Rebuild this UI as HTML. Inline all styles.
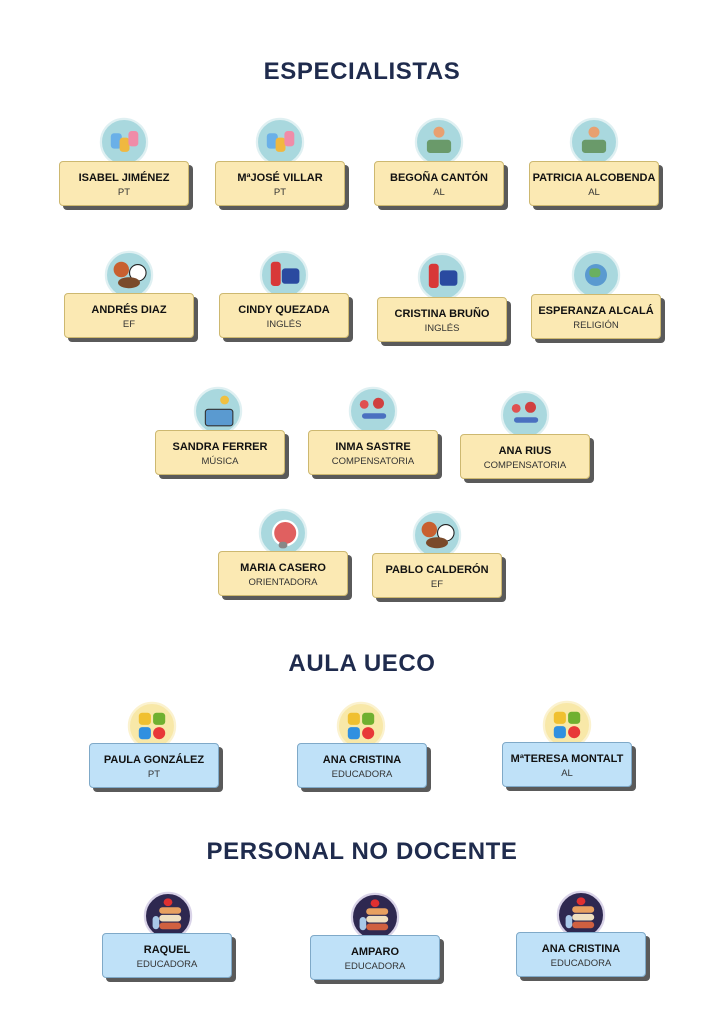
<!DOCTYPE html>
<html><head><meta charset="utf-8"><style>
body{margin:0;width:724px;height:1024px;background:#fff;position:relative;overflow:hidden;font-family:"Liberation Sans",sans-serif}
.t{position:absolute;left:0;width:724px;text-align:center;font-weight:bold;font-size:24px;color:#1f2b4d;letter-spacing:0.6px}
.c{position:absolute;width:128px;height:43px;border:1px solid #cdb870;border-radius:4px;background:#fbe9b3;box-shadow:4px 4px 0 #5a5a5a;text-align:center}
.b{background:#bfe1f8;border-color:#7fa9c8}
.c .n{font-weight:bold;font-size:11px;color:#111;margin-top:10px;white-space:nowrap}
.c .s{font-size:9.5px;color:#333;margin-top:3px}
.i{position:absolute;width:40px;height:40px;border-radius:50%;background:#a9d8de;border:2px solid #dff0f2;margin-left:-22px;margin-top:-22px;transform:scale(1.1)}
.iy{background:#f8e8a8;border-color:#fbf2cf}
.id{background:#2e2850;border-color:#d9d3e8}
.i i{position:absolute;border-radius:3px}
</style></head><body>
<div class="t" style="top:58px">ESPECIALISTAS</div>
<div class="t" style="top:650px">AULA UECO</div>
<div class="t" style="top:838px">PERSONAL NO DOCENTE</div>

<div class="i" style="left:124px;top:142px"><i style="left:8px;top:12px;width:10px;height:14px;background:#6ab0e8"></i><i style="left:16px;top:16px;width:9px;height:13px;background:#f0b840"></i><i style="left:24px;top:10px;width:9px;height:14px;background:#f08ca8"></i></div>
<div class="c" style="left:59px;top:161px"><div class="n">ISABEL JIMÉNEZ</div><div class="s">PT</div></div>
<div class="i" style="left:280px;top:142px"><i style="left:8px;top:12px;width:10px;height:14px;background:#6ab0e8"></i><i style="left:16px;top:16px;width:9px;height:13px;background:#f0b840"></i><i style="left:24px;top:10px;width:9px;height:14px;background:#f08ca8"></i></div>
<div class="c" style="left:215px;top:161px"><div class="n">MªJOSÉ VILLAR</div><div class="s">PT</div></div>
<div class="i" style="left:439px;top:142px"><i style="left:15px;top:6px;width:10px;height:10px;border-radius:50%;background:#e8a070"></i><i style="left:9px;top:18px;width:22px;height:12px;background:#6a9a6a"></i></div>
<div class="c" style="left:374px;top:161px"><div class="n">BEGOÑA CANTÓN</div><div class="s">AL</div></div>
<div class="i" style="left:594px;top:142px"><i style="left:15px;top:6px;width:10px;height:10px;border-radius:50%;background:#e8a070"></i><i style="left:9px;top:18px;width:22px;height:12px;background:#6a9a6a"></i></div>
<div class="c" style="left:529px;top:161px"><div class="n">PATRICIA ALCOBENDA</div><div class="s">AL</div></div>

<div class="i" style="left:129px;top:275px"><i style="left:6px;top:8px;width:14px;height:14px;border-radius:50%;background:#c86030"></i><i style="left:20px;top:10px;width:14px;height:14px;border-radius:50%;background:#fff;border:1px solid #222"></i><i style="left:10px;top:22px;width:20px;height:10px;border-radius:50%;background:#7a4a2a"></i></div>
<div class="c" style="left:64px;top:293px"><div class="n">ANDRÉS DIAZ</div><div class="s">EF</div></div>
<div class="i" style="left:284px;top:275px"><i style="left:8px;top:8px;width:9px;height:22px;background:#d83838"></i><i style="left:18px;top:14px;width:16px;height:14px;background:#2a4aa0"></i></div>
<div class="c" style="left:219px;top:293px"><div class="n">CINDY QUEZADA</div><div class="s">INGLÉS</div></div>
<div class="i" style="left:442px;top:277px"><i style="left:8px;top:8px;width:9px;height:22px;background:#d83838"></i><i style="left:18px;top:14px;width:16px;height:14px;background:#2a4aa0"></i></div>
<div class="c" style="left:377px;top:297px"><div class="n">CRISTINA BRUÑO</div><div class="s">INGLÉS</div></div>
<div class="i" style="left:596px;top:275px"><i style="left:10px;top:10px;width:20px;height:20px;border-radius:50%;background:#5a9ad0"></i><i style="left:14px;top:14px;width:10px;height:8px;background:#6ab060"></i></div>
<div class="c" style="left:531px;top:294px"><div class="n">ESPERANZA ALCALÁ</div><div class="s">RELIGIÓN</div></div>

<div class="i" style="left:218px;top:411px"><i style="left:8px;top:18px;width:24px;height:14px;background:#5a9ad0;border:1px solid #333"></i><i style="left:22px;top:6px;width:8px;height:8px;background:#f0c040;border-radius:50%"></i></div>
<div class="c" style="left:155px;top:430px"><div class="n">SANDRA FERRER</div><div class="s">MÚSICA</div></div>
<div class="i" style="left:373px;top:411px"><i style="left:8px;top:10px;width:8px;height:8px;background:#e05050;border-radius:50%"></i><i style="left:20px;top:8px;width:10px;height:10px;background:#d04040;border-radius:50%"></i><i style="left:10px;top:22px;width:22px;height:5px;background:#4a70c0"></i></div>
<div class="c" style="left:308px;top:430px"><div class="n">INMA SASTRE</div><div class="s">COMPENSATORIA</div></div>
<div class="i" style="left:525px;top:415px"><i style="left:8px;top:10px;width:8px;height:8px;background:#e05050;border-radius:50%"></i><i style="left:20px;top:8px;width:10px;height:10px;background:#d04040;border-radius:50%"></i><i style="left:10px;top:22px;width:22px;height:5px;background:#4a70c0"></i></div>
<div class="c" style="left:460px;top:434px"><div class="n">ANA RIUS</div><div class="s">COMPENSATORIA</div></div>

<div class="i" style="left:283px;top:533px"><i style="left:10px;top:8px;width:20px;height:20px;border-radius:50%;background:#e06060;border:2px solid #fff"></i><i style="left:16px;top:28px;width:8px;height:6px;background:#888"></i></div>
<div class="c" style="left:218px;top:551px"><div class="n">MARIA CASERO</div><div class="s">ORIENTADORA</div></div>
<div class="i" style="left:437px;top:535px"><i style="left:6px;top:8px;width:14px;height:14px;border-radius:50%;background:#c86030"></i><i style="left:20px;top:10px;width:14px;height:14px;border-radius:50%;background:#fff;border:1px solid #222"></i><i style="left:10px;top:22px;width:20px;height:10px;border-radius:50%;background:#7a4a2a"></i></div>
<div class="c" style="left:372px;top:553px"><div class="n">PABLO CALDERÓN</div><div class="s">EF</div></div>

<div class="i iy" style="left:152px;top:726px"><i style="left:8px;top:8px;width:11px;height:11px;background:#f0c030"></i><i style="left:21px;top:8px;width:11px;height:11px;background:#70b030"></i><i style="left:8px;top:21px;width:11px;height:11px;background:#3090e0"></i><i style="left:21px;top:21px;width:11px;height:11px;background:#e83838;border-radius:50%"></i></div>
<div class="c b" style="left:89px;top:743px"><div class="n">PAULA GONZÁLEZ</div><div class="s">PT</div></div>
<div class="i iy" style="left:361px;top:726px"><i style="left:8px;top:8px;width:11px;height:11px;background:#f0c030"></i><i style="left:21px;top:8px;width:11px;height:11px;background:#70b030"></i><i style="left:8px;top:21px;width:11px;height:11px;background:#3090e0"></i><i style="left:21px;top:21px;width:11px;height:11px;background:#e83838;border-radius:50%"></i></div>
<div class="c b" style="left:297px;top:743px"><div class="n">ANA CRISTINA</div><div class="s">EDUCADORA</div></div>
<div class="i iy" style="left:567px;top:725px"><i style="left:8px;top:8px;width:11px;height:11px;background:#f0c030"></i><i style="left:21px;top:8px;width:11px;height:11px;background:#70b030"></i><i style="left:8px;top:21px;width:11px;height:11px;background:#3090e0"></i><i style="left:21px;top:21px;width:11px;height:11px;background:#e83838;border-radius:50%"></i></div>
<div class="c b" style="left:502px;top:742px"><div class="n">MªTERESA MONTALT</div><div class="s">AL</div></div>

<div class="i id" style="left:168px;top:916px"><i style="left:16px;top:4px;width:8px;height:7px;background:#e03030;border-radius:50%"></i><i style="left:12px;top:12px;width:20px;height:6px;background:#e8a060"></i><i style="left:12px;top:19px;width:20px;height:6px;background:#f0e0c0"></i><i style="left:12px;top:26px;width:20px;height:6px;background:#d06040"></i><i style="left:6px;top:20px;width:6px;height:12px;background:#a8c8e8"></i></div>
<div class="c b" style="left:102px;top:933px"><div class="n">RAQUEL</div><div class="s">EDUCADORA</div></div>
<div class="i id" style="left:375px;top:917px"><i style="left:16px;top:4px;width:8px;height:7px;background:#e03030;border-radius:50%"></i><i style="left:12px;top:12px;width:20px;height:6px;background:#e8a060"></i><i style="left:12px;top:19px;width:20px;height:6px;background:#f0e0c0"></i><i style="left:12px;top:26px;width:20px;height:6px;background:#d06040"></i><i style="left:6px;top:20px;width:6px;height:12px;background:#a8c8e8"></i></div>
<div class="c b" style="left:310px;top:935px"><div class="n">AMPARO</div><div class="s">EDUCADORA</div></div>
<div class="i id" style="left:581px;top:915px"><i style="left:16px;top:4px;width:8px;height:7px;background:#e03030;border-radius:50%"></i><i style="left:12px;top:12px;width:20px;height:6px;background:#e8a060"></i><i style="left:12px;top:19px;width:20px;height:6px;background:#f0e0c0"></i><i style="left:12px;top:26px;width:20px;height:6px;background:#d06040"></i><i style="left:6px;top:20px;width:6px;height:12px;background:#a8c8e8"></i></div>
<div class="c b" style="left:516px;top:932px"><div class="n">ANA CRISTINA</div><div class="s">EDUCADORA</div></div>
</body></html>
